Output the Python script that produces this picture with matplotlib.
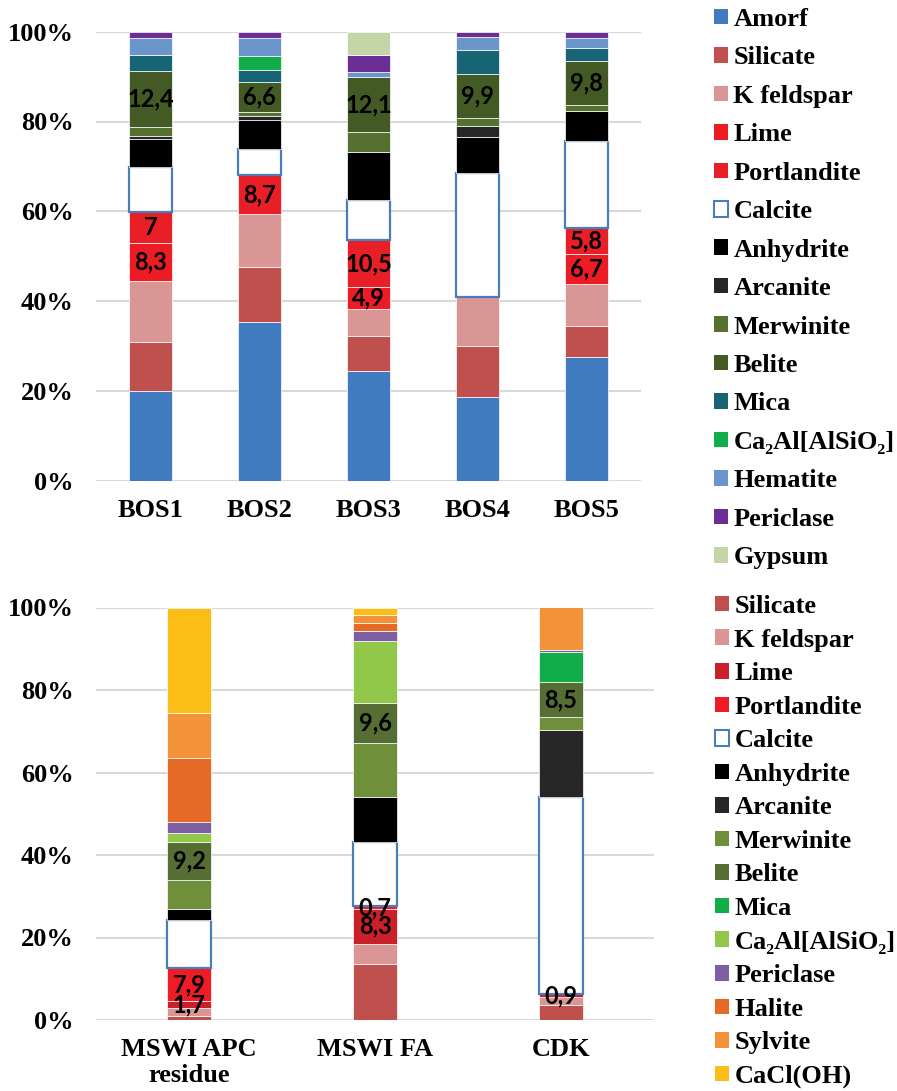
import numpy as np
import matplotlib.pyplot as plt
from matplotlib.patches import Patch

plt.rcParams["font.family"] = ["Liberation Serif", "DejaVu Serif"]
plt.rcParams["font.weight"] = "bold"

# ---- top chart: BOS samples ----
top_samples = ["BOS1", "BOS2", "BOS3", "BOS4", "BOS5"]
top_minerals = ["Amorf", "Silicate", "K feldspar", "Lime", "Portlandite", "Calcite",
                "Anhydrite", "Arcanite", "Merwinite", "Belite", "Mica",
                "Ca₂Al[AlSiO₂]", "Hematite", "Periclase", "Gypsum"]
top_colors = ["#3F7BBE", "#C0504D", "#D99694", "#ED1C24", "#E81F27", "#FFFFFF",
              "#000000", "#262626", "#56702F", "#435A25", "#176574",
              "#12AD4B", "#6A96CB", "#6A2E94", "#C4D6A8"]
bos1 = [20.0, 10.9, 13.6, 8.3, 7.0, 10.0, 6.2, 0.8, 2.0, 12.4, 3.5, 0.0, 3.7, 1.5, 0.0]
bos2 = [35.4, 12.2, 11.7, 0.0, 8.7, 5.9, 6.4, 1.0, 0.8, 6.6, 2.8, 3.1, 3.9, 1.5, 0.0]
bos3 = [24.6, 7.8, 5.9, 4.9, 10.5, 8.9, 10.8, 0.0, 4.6, 12.1, 0.0, 0.0, 1.3, 3.6, 5.3]
bos4 = [18.7, 11.4, 10.9, 0.0, 0.0, 27.6, 7.9, 2.5, 1.7, 9.9, 5.3, 0.0, 3.0, 1.1, 0.0]
bos5 = [27.5, 6.8, 9.4, 6.7, 5.8, 19.3, 6.6, 0.0, 1.3, 9.8, 2.8, 0.0, 2.4, 1.3, 0.0]

# ---- bottom chart: residues ----
bot_samples = ["MSWI APC\nresidue", "MSWI FA", "CDK"]
bot_minerals = ["Silicate", "K feldspar", "Lime", "Portlandite", "Calcite",
                "Anhydrite", "Arcanite", "Merwinite", "Belite", "Mica",
                "Ca₂Al[AlSiO₂]", "Periclase", "Halite", "Sylvite", "CaCl(OH)"]
bot_colors = ["#C0504D", "#D99694", "#C9202A", "#EE1D25", "#FFFFFF",
              "#000000", "#262626", "#6F8F3A", "#566D33", "#12AD4B",
              "#92C84A", "#7F5FA3", "#E46A26", "#F4923A", "#FBBE16"]
apc = [1.0, 1.9, 1.7, 7.9, 11.6, 2.7, 0.0, 7.0, 9.2, 0.0, 2.2, 2.7, 15.5, 10.9, 25.5]
fa = [13.4, 5.0, 8.3, 0.7, 15.4, 10.9, 0.0, 13.0, 9.6, 0.0, 15.0, 2.3, 1.9, 1.9, 1.9]
cdk = [3.7, 1.8, 0.9, 0.0, 47.7, 0.0, 16.3, 3.2, 8.5, 7.3, 0.0, 0.5, 0.0, 10.3, 0.0]

labelled = ["Lime", "Portlandite", "Belite"]
calcite_edge = "#4A7EBB"


def draw_stack(ax, samples, minerals, colors, table, width):
    raw = np.array(table, dtype=float).T
    share = raw / raw.sum(axis=0) * 100
    x = np.arange(len(samples))
    bottom = np.zeros(len(samples))

    for i, name in enumerate(minerals):
        vals = share[i]
        if name == "Calcite":
            edge = [calcite_edge if v > 0 else "none" for v in vals]
            lw = 1.6
        else:
            edge = ["white" if v > 0 else "none" for v in vals]
            lw = 0.5
        bars = ax.bar(x, vals, width, bottom=bottom, color=colors[i],
                      edgecolor=edge, linewidth=lw, zorder=3)
        if name in labelled:
            texts = [f"{v:g}".replace(".", ",") if v > 0 else "" for v in raw[i]]
            ax.bar_label(bars, labels=texts, label_type="center",
                         fontfamily="Lato", fontweight="bold", fontsize=17,
                         color="black", zorder=5)
        bottom += vals

    ax.set_xticks(x)
    ax.set_xticklabels(samples, fontsize=19, fontweight="bold", linespacing=1.15)
    ax.set_xlim(-0.5, len(samples) - 0.5)
    ax.set_ylim(0, 100)
    ax.set_yticks(np.arange(0, 101, 20))
    ax.set_yticklabels([f"{t}%" for t in range(0, 101, 20)],
                       fontsize=19, fontweight="bold")
    ax.grid(axis="y", color="#D9D9D9", linewidth=1.5, zorder=0)
    ax.tick_params(axis="y", length=0, pad=16)
    ax.tick_params(axis="x", length=0, pad=13)
    for s in ax.spines.values():
        s.set_visible(False)


def legend_handles(minerals, colors):
    handles = []
    for name, c in zip(minerals, colors):
        if name == "Calcite":
            handles.append(Patch(facecolor="white", edgecolor=calcite_edge, linewidth=1.5))
        else:
            handles.append(Patch(facecolor=c, edgecolor="none"))
    return handles


fig = plt.figure(figsize=(8.97, 10.91), dpi=100)

ax_top = fig.add_axes([96 / 897, 1 - 480.7 / 1091, 545 / 897, 449 / 1091])
draw_stack(ax_top, top_samples, top_minerals, top_colors,
           [bos1, bos2, bos3, bos4, bos5], 0.4)

ax_bot = fig.add_axes([96 / 897, 1 - 1020 / 1091, 558 / 897, 412.5 / 1091])
draw_stack(ax_bot, bot_samples, bot_minerals, bot_colors,
           [apc, fa, cdk], 0.237)

fig.legend(legend_handles(top_minerals, top_colors), top_minerals,
           loc="upper left", bbox_to_anchor=(714 / 897, 1 - 8 / 1091),
           frameon=False, handlelength=0.53, handleheight=0.53,
           handletextpad=0.2, labelspacing=0.585, borderpad=0, borderaxespad=0,
           prop={"weight": "bold", "size": 19})

fig.legend(legend_handles(bot_minerals, bot_colors), bot_minerals,
           loc="upper left", bbox_to_anchor=(715 / 897, 1 - 595 / 1091),
           frameon=False, handlelength=0.53, handleheight=0.53,
           handletextpad=0.2, labelspacing=0.40, borderpad=0, borderaxespad=0,
           prop={"weight": "bold", "size": 19})

fig.savefig("out.png", dpi=100)
